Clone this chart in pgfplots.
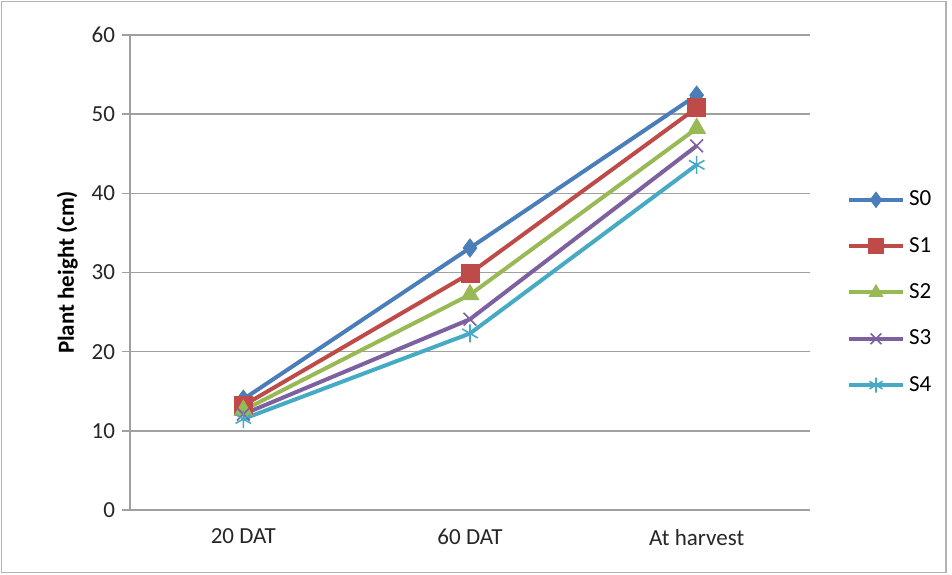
\documentclass[border=0pt]{standalone}
\usepackage{pgfplots}
\pgfplotsset{compat=1.18}
\usepackage{fontspec}
\setmainfont{Carlito}
\definecolor{c0}{HTML}{4A7EBB}
\definecolor{c1}{HTML}{BE4B48}
\definecolor{c2}{HTML}{98B954}
\definecolor{c3}{HTML}{7D60A0}
\definecolor{c4}{HTML}{46AAC5}
\definecolor{gridc}{HTML}{A0A0A0}
\begin{document}
\begin{tikzpicture}[x=0.5pt,y=0.5pt]
\path[use as bounding box] (0,0) rectangle (952,574);
\draw[gridc!80,line width=0.8pt] (1.5,1.5) rectangle (946,572.5);
\begin{axis}[
  at={(130*0.5pt,64*0.5pt)}, anchor=south west,
  scale only axis, width=340pt, height=237.5pt,
  xmin=-0.5, xmax=2.5, ymin=0, ymax=60,
  axis lines*=left,
  axis line style={gridc, line width=0.8pt},
  xtick={0,1,2}, xticklabels={20 DAT,60 DAT,At harvest},
  major x tick style={draw=none},
  extra x ticks={-0.5,0.5,1.5,2.5}, extra x tick labels={},
  extra x tick style={major tick length=6pt, tick style={gridc, line width=0.8pt}, tick align=outside, grid=none},
  ytick={0,10,...,60},
  /pgf/number format/assume math mode=true,
  ymajorgrids, grid style={gridc, line width=0.8pt},
  tick align=outside, major tick length=4pt,
  y tick style={gridc, line width=0.8pt},
  ticklabel style={font=\fontsize{11.5}{13}\selectfont, text=black!85},
  xticklabel style={yshift=-2pt},
  ylabel={\textbf{Plant height (cm)}},
  ylabel style={font=\fontsize{11.5}{13}\selectfont, yshift=0pt},
  clip=false,
  legend style={at={(1.045,0.458)}, anchor=west, draw=none, fill=none,
    font=\fontsize{11.5}{13}\selectfont, row sep=10.2pt},
  legend cell align=left,
  legend image code/.code={\draw[#1] (0pt,0pt) -- (13.5pt,0pt); \draw[#1, mark repeat=2, mark phase=2, mark size=3.8pt] plot coordinates {(0pt,0pt) (13.5pt,0pt) (27pt,0pt)};},
]
\addplot[c0, line width=2pt, mark=diamond*, mark size=4.5pt, mark options={fill=c0,line width=0.5pt}] coordinates {(0,14.0) (1,33.1) (2,52.4)};
\addplot[c1, line width=2pt, mark=square*, mark size=4.5pt, mark options={fill=c1,line width=0.5pt}] coordinates {(0,13.2) (1,29.9) (2,50.8)};
\addplot[c2, line width=2pt, mark=triangle*, mark size=5pt, mark options={fill=c2,line width=0.5pt}] coordinates {(0,12.6) (1,27.2) (2,48.2)};
\addplot[c3, line width=2pt, mark=x, mark size=4.5pt, mark options={line width=0.8pt}] coordinates {(0,12.1) (1,24.1) (2,46.0)};
\addplot[c4, line width=2pt, mark=asterisk, mark size=4.5pt, mark options={line width=0.8pt}] coordinates {(0,11.5) (1,22.3) (2,43.6)};
\legend{S0,S1,S2,S3,S4}
\end{axis}
\end{tikzpicture}
\end{document}
